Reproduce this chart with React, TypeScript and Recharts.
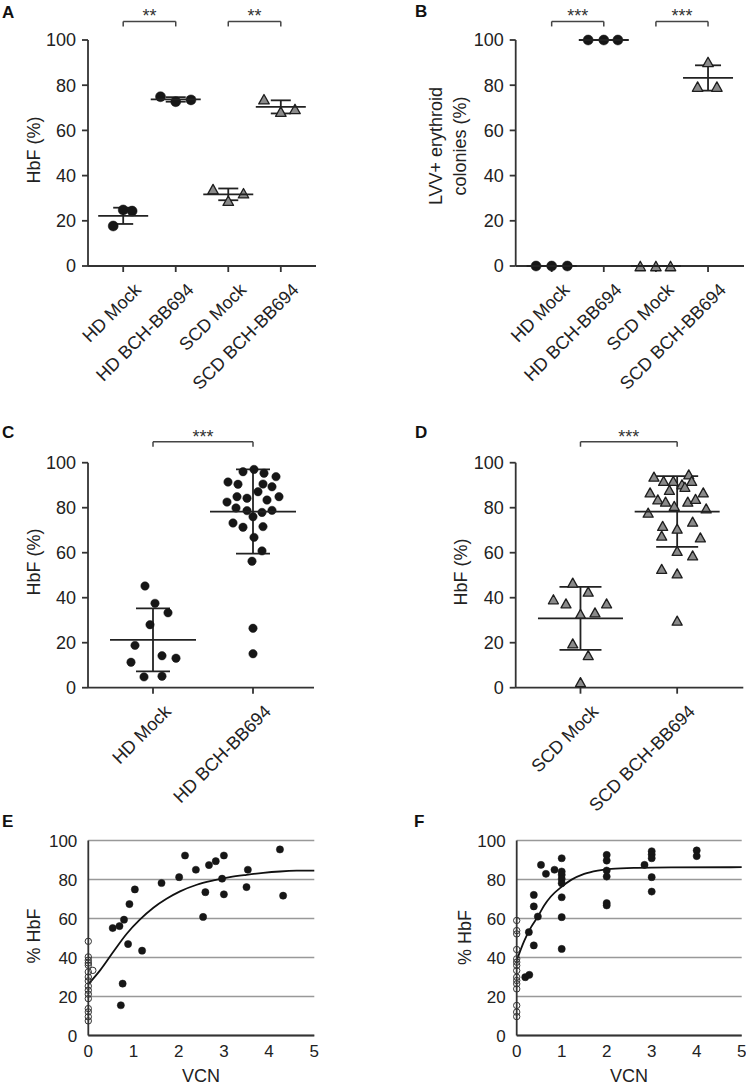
import React from 'react';
import {
  ComposedChart,
  Scatter,
  Line,
  XAxis,
  YAxis,
  CartesianGrid,
  ErrorBar,
  ReferenceLine,
  ReferenceDot,
} from 'recharts';

const FONT = '"Liberation Sans", Arial, Helvetica, sans-serif';
const AX = '#333';
const TXT = '#222';

// ---------- Panel A (HbF %, 4 groups) ----------
const groupsABC = ['HD Mock', 'HD BCH-BB694', 'SCD Mock', 'SCD BCH-BB694'];
// [jitter, value]
const aHdMock = [[-0.19, 17.7], [0, 24.8], [0.17, 24.3]];
const aHdBch = [[-0.29, 74.9], [0, 72.7], [0.29, 73.5]];
const aScdMock = [[-0.29, 34.0], [0, 28.9], [0.29, 32.2]];
const aScdBch = [[-0.32, 73.8], [0, 68.3], [0.27, 69.5]];
const aMeans = [22.2, 73.7, 31.7, 70.4];
const aSDs = [3.6, 1.0, 2.6, 2.9];
const aSig = ['**', '**'];

// ---------- Panel B (LVV+ colonies %) ----------
const bHdMock = [[-0.3, 0], [0, 0], [0.3, 0]];
const bHdBch = [[-0.3, 100], [0, 100], [0.27, 100]];
const bScdMock = [[-0.3, 0], [0, 0], [0.28, 0]];
const bScdBch = [[-0.2, 79.4], [0, 90.3], [0.17, 79.4]];
const bMeans = [0, 100, 0, 83.2];
const bSDs = [0, 0, 0, 5.6];
const bSig = ['***', '***'];

// ---------- Panel C (HD) ----------
const groupsC = ['HD Mock', 'HD BCH-BB694'];
const cMock = [
  [-0.08, 45.2], [0.02, 37.5], [0.15, 33.3], [-0.03, 28.0], [-0.18, 18.8],
  [0.09, 14.2], [0.23, 13.1], [-0.22, 11.3], [-0.09, 4.8], [0.09, 5.1],
];
const cBch = [
  [-0.1, 96.0], [0.01, 97.0], [0.11, 95.3], [0.23, 93.8], [-0.25, 91.4],
  [-0.15, 90.4], [0.1, 90.5], [0.19, 89.3], [0.05, 87.1], [-0.16, 84.9],
  [-0.06, 84.2], [0.14, 83.4], [0.26, 84.9], [-0.26, 82.5], [-0.17, 79.9],
  [-0.06, 78.7], [0.09, 77.9], [0.19, 78.8], [0, 76.0], [-0.2, 73.2],
  [-0.1, 71.3], [0.1, 71.6], [0.01, 66.8], [0.09, 60.8], [-0.01, 56.2],
  [0, 26.4], [0, 15.1],
];
const cMeans = [21.3, 78.3];
const cSDs = [14.0, 18.7];
const cSig = ['***'];

// ---------- Panel D (SCD) ----------
const groupsD = ['SCD Mock', 'SCD BCH-BB694'];
const dMock = [
  [-0.08, 46.7], [0.08, 42.7], [-0.28, 39.3], [-0.15, 37.5], [0.27, 37.5],
  [0, 32.8], [0.15, 33.5], [-0.08, 19.7], [0.08, 14.5], [0, 2.5],
];
const dBch = [
  [0.12, 94.8], [-0.24, 93.8], [-0.14, 91.9], [-0.04, 91.9], [0.15, 91.9],
  [0.05, 90.4], [0.08, 89.3], [-0.08, 87.9], [-0.28, 86.8], [0.27, 86.8],
  [-0.2, 83.7], [-0.12, 82.7], [0.11, 82.7], [0.19, 83.9], [-0.03, 80.8],
  [-0.3, 77.8], [0.3, 79.7], [-0.15, 71.9], [0.16, 73.8], [0, 70.7],
  [-0.16, 67.6], [0.24, 66.8], [0, 60.8], [0.16, 58.8], [-0.16, 52.8],
  [0, 50.8], [0, 29.8],
];
const dMeans = [30.8, 78.3];
const dSDs = [14.0, 15.7];
const dSig = ['***'];

// ---------- Panel E (HD, VCN vs HbF) ----------
const eFilled = [
  [0.54, 55.1], [0.69, 56.1], [0.79, 59.4], [0.91, 67.4], [1.03, 74.9],
  [0.88, 46.9], [1.19, 43.5], [0.76, 26.6], [0.72, 15.5], [1.62, 78.2],
  [2.01, 81.2], [2.14, 92.3], [2.38, 85.0], [2.67, 87.4], [2.82, 89.4],
  [3.0, 92.3], [2.59, 73.5], [2.54, 60.8], [2.96, 80.4], [3.0, 72.4],
  [3.53, 85.0], [3.5, 76.1], [4.24, 95.4], [4.31, 71.7],
];
const eOpen = [
  [0, 48.3], [0, 40.3], [0, 38.6], [0, 37.2], [0, 36.0], [0, 32.6],
  [0, 30.0], [0, 28.0], [0, 25.3], [0, 23.2], [0, 21.2], [0, 18.9],
  [0, 13.8], [0, 12.1], [0, 9.6], [0, 7.5], [0.1, 33.4],
];
const eCurve = [
  [0, 26.3], [0.26, 33.4], [0.55, 42.8], [0.85, 52.2], [1.14, 59.4],
  [1.44, 65.5], [1.73, 70.1], [2.03, 73.9], [2.4, 77.3], [2.77, 79.5],
  [3.13, 81.2], [3.5, 82.4], [3.87, 83.4], [4.24, 84.1], [4.61, 84.5], [5.0, 84.6],
];

// ---------- Panel F (SCD, VCN vs HbF) ----------
const fFilled = [
  [0.19, 29.9], [0.28, 31.1], [0.27, 53.0], [0.38, 72.1], [0.38, 66.2],
  [0.38, 46.2], [0.47, 61.0], [0.54, 87.5], [0.65, 82.9], [0.84, 85.0],
  [1.0, 90.9], [1.0, 84.1], [1.0, 82.4], [1.0, 80.3], [1.0, 78.1],
  [1.0, 70.9], [1.0, 60.7], [1.0, 44.4], [2.0, 92.6], [2.0, 89.7],
  [2.0, 84.6], [2.0, 81.5], [2.0, 67.9], [2.0, 66.7], [2.84, 87.5],
  [3.0, 94.5], [3.0, 92.8], [3.0, 90.9], [3.0, 81.2], [3.0, 73.8],
  [4.0, 94.9], [4.0, 92.0],
];
const fOpen = [
  [0, 59.0], [0, 53.8], [0, 52.1], [0, 44.1], [0, 39.3], [0, 37.6],
  [0, 35.9], [0, 33.3], [0, 29.9], [0, 28.2], [0, 26.5], [0, 23.9],
  [0, 15.4], [0, 12.0], [0, 9.7],
];
const fCurve = [
  [0, 38.5], [0.17, 48.7], [0.32, 55.6], [0.47, 61.0], [0.61, 66.7],
  [0.76, 71.3], [0.99, 76.1], [1.21, 79.8], [1.5, 82.9], [1.8, 84.6],
  [2.1, 85.5], [2.69, 86.0], [3.43, 86.2], [5.0, 86.3],
];

const yTicks = [0, 20, 40, 60, 80, 100];
const vcnTicks = [0, 1, 2, 3, 4, 5];

// ---------- helpers ----------
const jitterPts = (cat: number, pairs: number[][]) =>
  pairs.map(([j, v]) => ({ x: cat + j, y: v }));
const xyPts = (pairs: number[][]) => pairs.map(([x, y]) => ({ x, y }));
const summary = (means: number[], sds: number[]) =>
  means.map((m, i) => ({ x: i, y: m, sd: sds[i] }));

const dotShape = (r: number) => (p: any) =>
  <circle cx={p.cx} cy={p.cy} r={r} fill="#161616" stroke="#161616" strokeWidth={0.5} />;
const openShape = (r: number) => (p: any) =>
  <circle cx={p.cx} cy={p.cy} r={r} fill="none" stroke="#333" strokeWidth={1} />;
const triShape = (s: number) => (p: any) => {
  const h = s * 0.9;
  const d = `M${p.cx},${p.cy - h / 2} L${p.cx + s / 2},${p.cy + h / 2} L${p.cx - s / 2},${p.cy + h / 2} Z`;
  return <path d={d} fill="#8a8a8a" stroke="#1e1e1e" strokeWidth={1.3} strokeLinejoin="round" />;
};
const meanShape = (hw: number) => (p: any) =>
  <line x1={p.cx - hw} x2={p.cx + hw} y1={p.cy} y2={p.cy} stroke="#222" strokeWidth={1.8} />;

const makeRotTick = (labels: string[]) => (props: any) => {
  const { x, y, payload } = props;
  const label = labels[payload.value];
  if (label === undefined) return <g />;
  return (
    <text
      x={0}
      y={0}
      transform={`translate(${x + 19},${y + 19}) rotate(-45)`}
      textAnchor="end"
      fontSize={18}
      fill={TXT}
      fontFamily={FONT}
    >
      {label}
    </text>
  );
};

const bracketEls = (sig: string[], pairsIdx: number[][], yb: number, drop: number, key: string) =>
  sig.flatMap((s, i) => {
    const [a, b] = pairsIdx[i];
    return [
      <ReferenceLine key={`${key}h${i}`} segment={[{ x: a, y: yb }, { x: b, y: yb }]} ifOverflow="visible" stroke="#444" strokeWidth={1.5} />,
      <ReferenceLine key={`${key}l${i}`} segment={[{ x: a, y: yb }, { x: a, y: yb - drop }]} ifOverflow="visible" stroke="#444" strokeWidth={1.5} />,
      <ReferenceLine key={`${key}r${i}`} segment={[{ x: b, y: yb }, { x: b, y: yb - drop }]} ifOverflow="visible" stroke="#444" strokeWidth={1.5} />,
      <ReferenceDot
        key={`${key}s${i}`}
        x={(a + b) / 2}
        y={yb}
        ifOverflow="visible"
        shape={(p: any) => (
          <text x={p.cx} y={p.cy + 1} textAnchor="middle" fontSize={18} fill="#333" fontFamily={FONT}>
            {s}
          </text>
        )}
      />,
    ];
  });

const yAxisProps = {
  dataKey: 'y',
  type: 'number' as const,
  domain: [0, 100],
  ticks: yTicks,
  width: 60,
  tickSize: 6,
  tickMargin: 6,
  axisLine: { stroke: AX, strokeWidth: 1.8 },
  tickLine: { stroke: AX, strokeWidth: 1.8 },
  tick: { fill: TXT, fontSize: 18, fontFamily: FONT },
};

type DotPanelProps = {
  width: number;
  height: number;
  margin: any;
  domain: number[];
  labels: string[];
  groups: { pts: number[][]; tri: boolean }[];
  means: number[];
  sds: number[];
  sig: string[];
  sigPairs: number[][];
  bracketY: number;
  dotR: number;
  triS: number;
  meanHW: number;
  capHW: number;
  xHeight: number;
};

function DotPanel(pp: DotPanelProps) {
  return (
    <ComposedChart width={pp.width} height={pp.height} margin={pp.margin}>
      <XAxis
        dataKey="x"
        type="number"
        domain={pp.domain}
        ticks={pp.labels.map((_, i) => i)}
        interval={0}
        height={pp.xHeight}
        tickSize={6}
        tickMargin={0}
        axisLine={{ stroke: AX, strokeWidth: 1.8 }}
        tickLine={{ stroke: AX, strokeWidth: 1.8 }}
        tick={makeRotTick(pp.labels)}
      />
      <YAxis {...yAxisProps} />
      {pp.groups.map((g, i) => (
        <Scatter
          key={`g${i}`}
          data={jitterPts(i, g.pts)}
          shape={g.tri ? triShape(pp.triS) : dotShape(pp.dotR)}
          isAnimationActive={false}
        />
      ))}
      <Scatter data={summary(pp.means, pp.sds)} shape={meanShape(pp.meanHW)} isAnimationActive={false}>
        <ErrorBar dataKey="sd" direction="y" width={pp.capHW} stroke="#222" strokeWidth={1.8} isAnimationActive={false} />
      </Scatter>
      {bracketEls(pp.sig, pp.sigPairs, pp.bracketY, 2.2, 'br')}
    </ComposedChart>
  );
}

type VcnPanelProps = {
  width: number;
  height: number;
  margin: any;
  filled: number[][];
  open: number[][];
  curve: number[][];
};

function VcnPanel(pp: VcnPanelProps) {
  return (
    <ComposedChart width={pp.width} height={pp.height} margin={pp.margin}>
      <CartesianGrid horizontal vertical={false} stroke="#999" strokeWidth={1.4} />
      <XAxis
        dataKey="x"
        type="number"
        domain={[0, 5]}
        ticks={vcnTicks}
        interval={0}
        height={40}
        tickLine={false}
        tickSize={6}
        tickMargin={3.5}
        axisLine={{ stroke: AX, strokeWidth: 1.8 }}
        tick={{ fill: TXT, fontSize: 17, fontFamily: FONT }}
      />
      <YAxis
        dataKey="y"
        type="number"
        domain={[0, 100]}
        ticks={yTicks}
        width={60}
        tickLine={false}
        tickSize={6}
        tickMargin={5}
        axisLine={{ stroke: AX, strokeWidth: 1.8 }}
        tick={{ fill: TXT, fontSize: 17, fontFamily: FONT }}
      />
      <Scatter data={xyPts(pp.open)} shape={openShape(3.2)} isAnimationActive={false} />
      <Scatter data={xyPts(pp.filled)} shape={dotShape(3.6)} isAnimationActive={false} />
      <Line
        data={xyPts(pp.curve)}
        dataKey="y"
        type="monotone"
        dot={false}
        activeDot={false}
        stroke="#111"
        strokeWidth={1.8}
        isAnimationActive={false}
      />
    </ComposedChart>
  );
}

const RotLabel = ({ x, y, text }: { x: number; y: number; text: string }) => (
  <text transform={`translate(${x},${y}) rotate(-90)`} textAnchor="middle" fontSize={18} fill={TXT} fontFamily={FONT}>
    {text}
  </text>
);
const Letter = ({ x, y, text }: { x: number; y: number; text: string }) => (
  <text x={x} y={y} fontSize={17} fontWeight="bold" fill="#111" fontFamily={FONT}>
    {text}
  </text>
);

export default function App() {
  const abs = (left: number, top: number): React.CSSProperties => ({ position: 'absolute', left, top });
  return (
    <div style={{ position: 'absolute', left: 0, top: 0, width: 746, height: 1087, overflow: 'hidden', background: '#fff', fontFamily: FONT }}>
      <div style={abs(0, 0)}>
        <DotPanel
          width={373}
          height={400}
          margin={{ top: 40, right: 57, bottom: 4, left: 28 }}
          domain={[-0.67, 3.67]}
          labels={groupsABC}
          groups={[
            { pts: aHdMock, tri: false },
            { pts: aHdBch, tri: false },
            { pts: aScdMock, tri: true },
            { pts: aScdBch, tri: true },
          ]}
          means={aMeans}
          sds={aSDs}
          sig={aSig}
          sigPairs={[[0, 1], [2, 3]]}
          bracketY={108.2}
          dotR={5}
          triS={10.5}
          meanHW={25}
          capHW={10}
          xHeight={130}
        />
      </div>
      <div style={abs(373, 0)}>
        <DotPanel
          width={373}
          height={400}
          margin={{ top: 40, right: 2, bottom: 4, left: 82.7 }}
          domain={[-0.69, 3.69]}
          labels={groupsABC}
          groups={[
            { pts: bHdMock, tri: false },
            { pts: bHdBch, tri: false },
            { pts: bScdMock, tri: true },
            { pts: bScdBch, tri: true },
          ]}
          means={bMeans}
          sds={bSDs}
          sig={bSig}
          sigPairs={[[0, 1], [2, 3]]}
          bracketY={108.2}
          dotR={5}
          triS={10.5}
          meanHW={25}
          capHW={13}
          xHeight={130}
        />
      </div>
      <div style={abs(0, 400)}>
        <DotPanel
          width={373}
          height={430}
          margin={{ top: 62.7, right: 59, bottom: 32.3, left: 28 }}
          domain={[-0.65, 1.61]}
          labels={groupsC}
          groups={[
            { pts: cMock, tri: false },
            { pts: cBch, tri: false },
          ]}
          means={cMeans}
          sds={cSDs}
          sig={cSig}
          sigPairs={[[0, 1]]}
          bracketY={109.3}
          dotR={4.2}
          triS={10}
          meanHW={43}
          capHW={17}
          xHeight={110}
        />
      </div>
      <div style={abs(373, 400)}>
        <DotPanel
          width={373}
          height={430}
          margin={{ top: 62.7, right: 2.7, bottom: 32.3, left: 82.7 }}
          domain={[-0.67, 1.684]}
          labels={groupsD}
          groups={[
            { pts: dMock, tri: true },
            { pts: dBch, tri: true },
          ]}
          means={dMeans}
          sds={dSDs}
          sig={dSig}
          sigPairs={[[0, 1]]}
          bracketY={109.3}
          dotR={4.2}
          triS={10}
          meanHW={42.5}
          capHW={21}
          xHeight={110}
        />
      </div>
      <div style={abs(0, 800)}>
        <VcnPanel
          width={373}
          height={287}
          margin={{ top: 40.5, right: 58.7, bottom: 11.5, left: 28.3 }}
          filled={eFilled}
          open={eOpen}
          curve={eCurve}
        />
      </div>
      <div style={abs(373, 800)}>
        <VcnPanel
          width={373}
          height={287}
          margin={{ top: 40.5, right: 4.3, bottom: 11.5, left: 83.7 }}
          filled={fFilled}
          open={fOpen}
          curve={fCurve}
        />
      </div>
      <svg width={746} height={1087} style={{ position: 'absolute', left: 0, top: 0, pointerEvents: 'none' }}>
        <Letter x={2} y={18.3} text="A" />
        <Letter x={415} y={16.7} text="B" />
        <Letter x={2} y={438} text="C" />
        <Letter x={415} y={438} text="D" />
        <Letter x={2} y={826.7} text="E" />
        <Letter x={414} y={826.7} text="F" />
        <RotLabel x={40} y={150} text="HbF (%)" />
        <RotLabel x={442} y={146} text="LVV+ erythroid" />
        <RotLabel x={465.5} y={146} text="colonies (%)" />
        <RotLabel x={40} y={562} text="HbF (%)" />
        <RotLabel x={466.5} y={572} text="HbF (%)" />
        <RotLabel x={40} y={936} text="% HbF" />
        <RotLabel x={471} y={937.5} text="% HbF" />
        <text x={201} y={1081.7} textAnchor="middle" fontSize={18} fill={TXT} fontFamily={FONT}>VCN</text>
        <text x={629} y={1081.7} textAnchor="middle" fontSize={18} fill={TXT} fontFamily={FONT}>VCN</text>
      </svg>
    </div>
  );
}
